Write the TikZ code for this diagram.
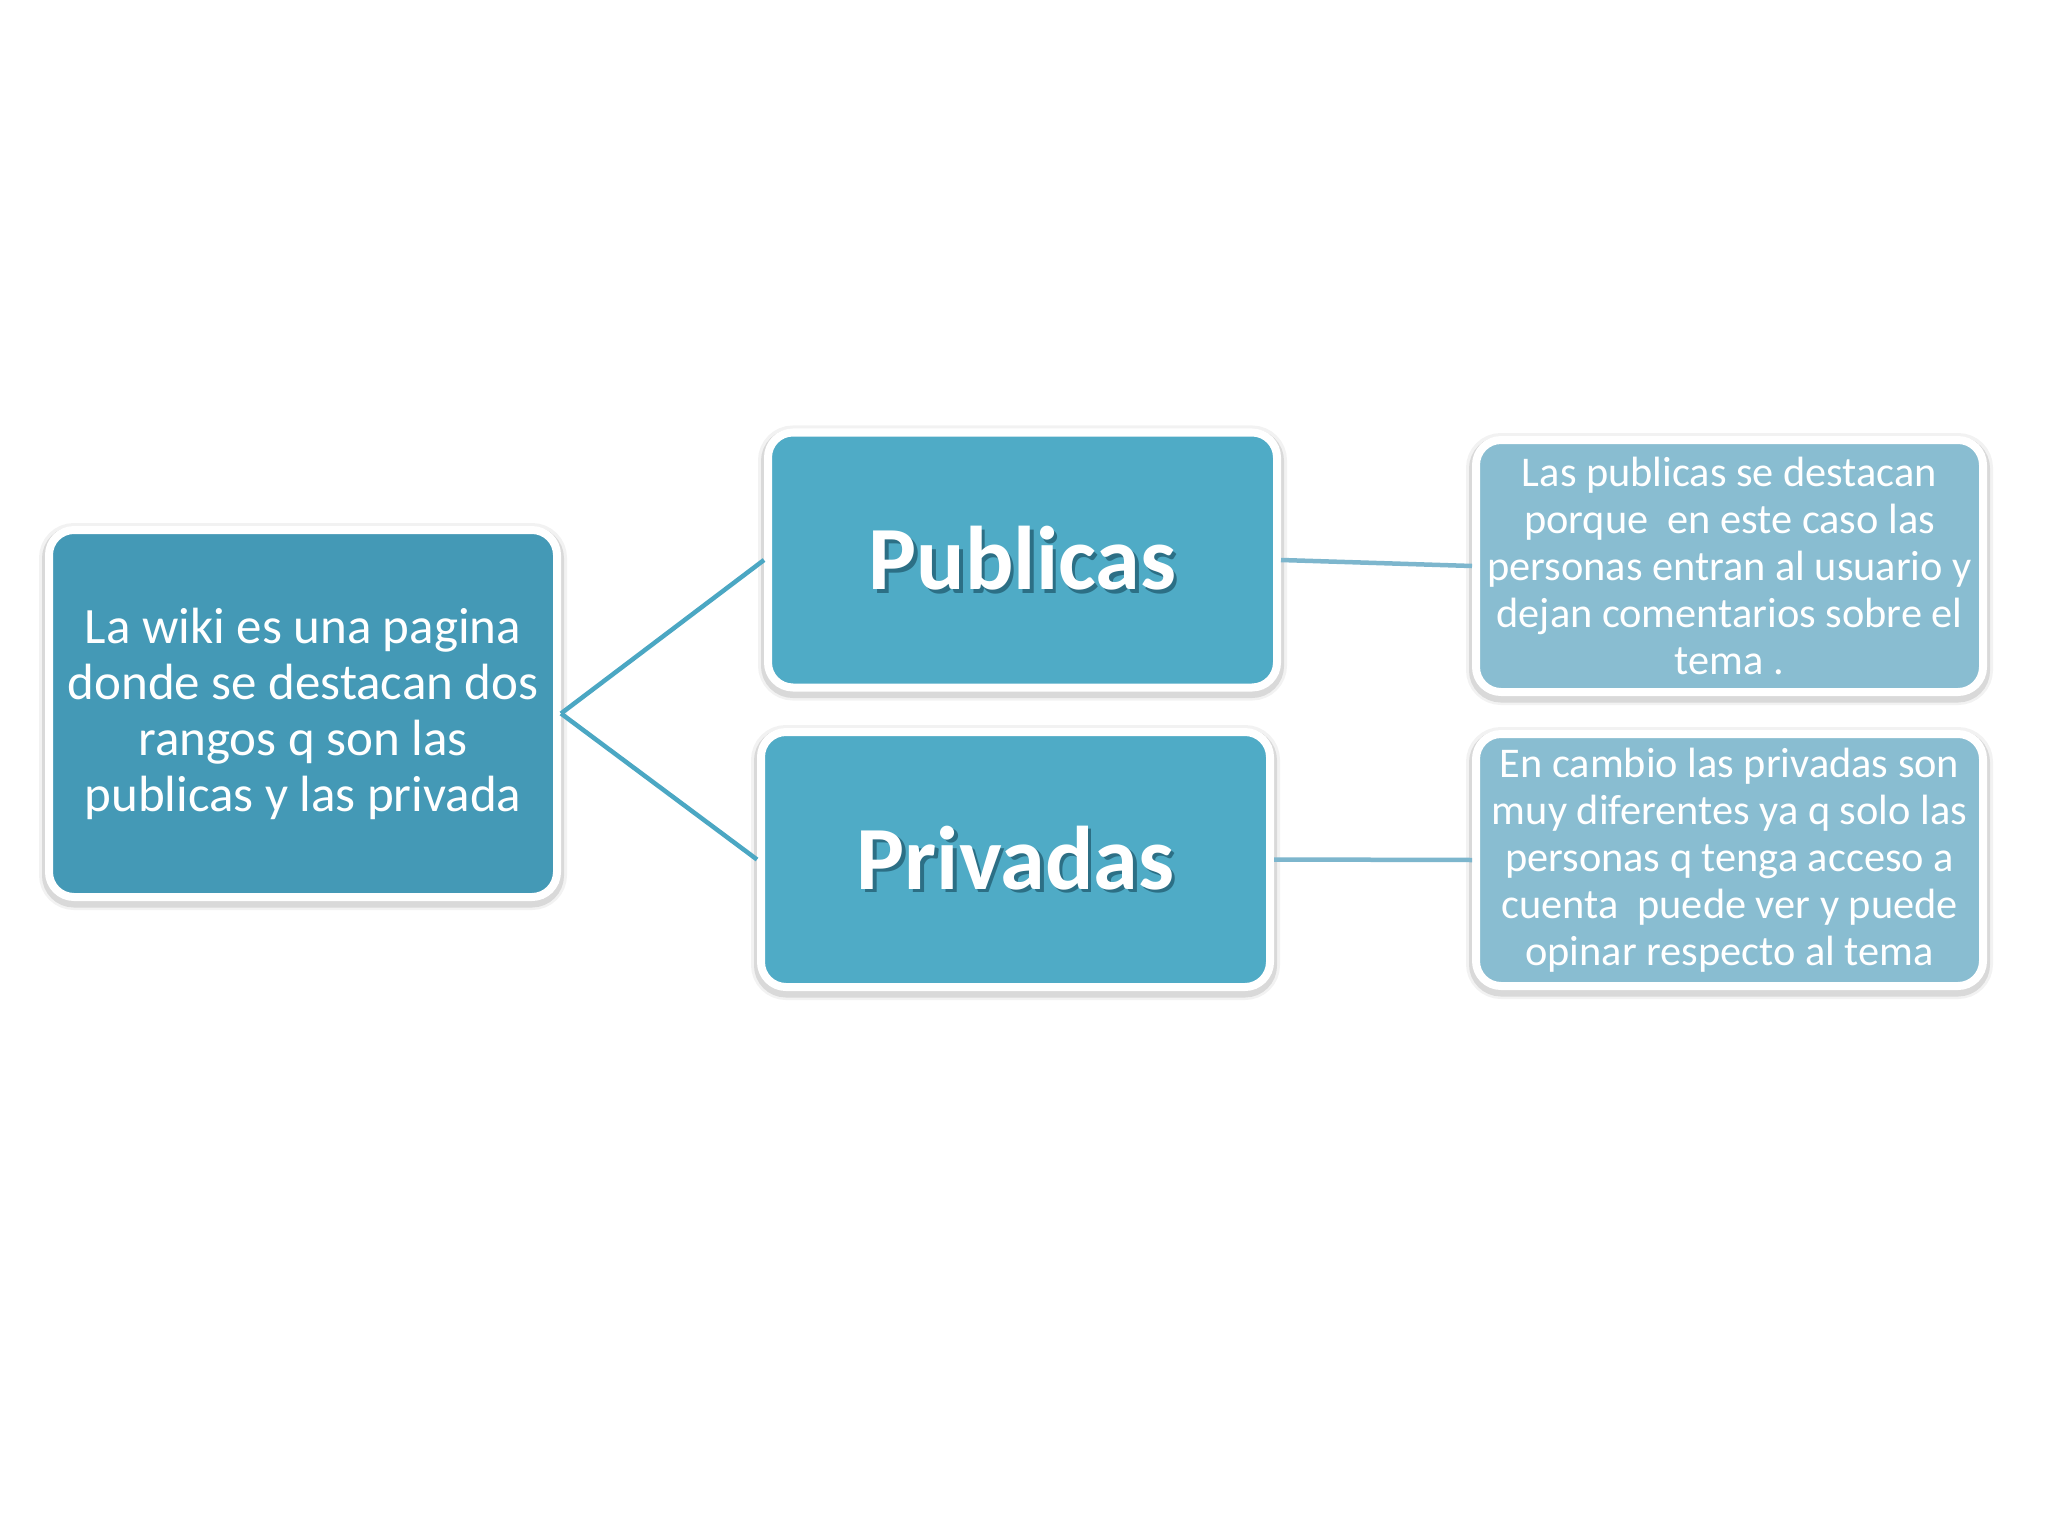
\documentclass[tikz,border=0pt]{standalone}
\usepackage{fontspec}
\setmainfont{Carlito}
\definecolor{rootfill}{HTML}{4499B6}
\definecolor{midfill}{HTML}{4FABC6}
\definecolor{txtfill}{HTML}{89BDD1}
\definecolor{linkA}{HTML}{4BA7C3}
\definecolor{linkB}{HTML}{7DB6CD}
\definecolor{tshadow}{HTML}{2C6F85}
\newcommand{\shadowedtext}[1]{\raisebox{0.08cm}{\makebox[0pt][l]{\hspace{0.07cm}\raisebox{-0.07cm}{\textcolor{tshadow}{#1}}}#1}}
\tikzset{
  box/.style={draw=white, line width=0.16cm, rounded corners=0.5cm, align=flush center,
    text=white, inner sep=0pt,
    preaction={fill=none, draw=black, draw opacity=0.05, line width=0.40cm, transform canvas={yshift=-0.06cm}},
    preaction={fill=none, draw=black, draw opacity=0.10, line width=0.28cm, transform canvas={yshift=-0.07cm}}},
  rootbox/.style={box, fill=rootfill, minimum width=10.16cm, minimum height=7.34cm,
    font=\fontsize{29}{31.9}\selectfont},
  midbox/.style={box, fill=midfill, minimum width=10.18cm, minimum height=5.1cm,
    font=\fontsize{51.4}{60}\selectfont\bfseries},
  txtbox/.style={box, fill=txtfill, minimum width=10.14cm, minimum height=5.04cm,
    font=\fontsize{24.1}{26.7}\selectfont},
  linkleft/.style={draw=linkA, line width=0.09cm},
  linkright/.style={draw=linkB, line width=0.09cm}
}
\begin{document}
\begin{tikzpicture}
\fill[white] (0,0) rectangle (40.96,-30.72);
\useasboundingbox (0,0) rectangle (40.96,-30.72);
\node[rootbox] (root) at (6.06,-14.27) {La wiki es una pagina\\donde se destacan dos\\rangos q son las\\publicas y las privada};
\node[midbox] (pub) at (20.45,-11.2) {\shadowedtext{Publicas}};
\node[midbox] (priv) at (20.31,-17.19) {\shadowedtext{Privadas}};
\node[txtbox] (t1) at (34.59,-11.32) {Las publicas se destacan\\porque\ \ en este caso las\\personas entran al usuario y\\dejan comentarios sobre el\\tema .};
\node[txtbox] (t2) at (34.59,-17.2) {En cambio las privadas son\\muy diferentes ya q solo las\\personas q tenga acceso a\\cuenta\ \ puede ver y puede\\opinar respecto al tema};
\draw[linkleft] (root.east) -- (pub.west);
\draw[linkleft] (root.east) -- (priv.west);
\draw[linkright] (pub.east) -- (t1.west);
\draw[linkright] (priv.east) -- (t2.west);
\end{tikzpicture}
\end{document}
